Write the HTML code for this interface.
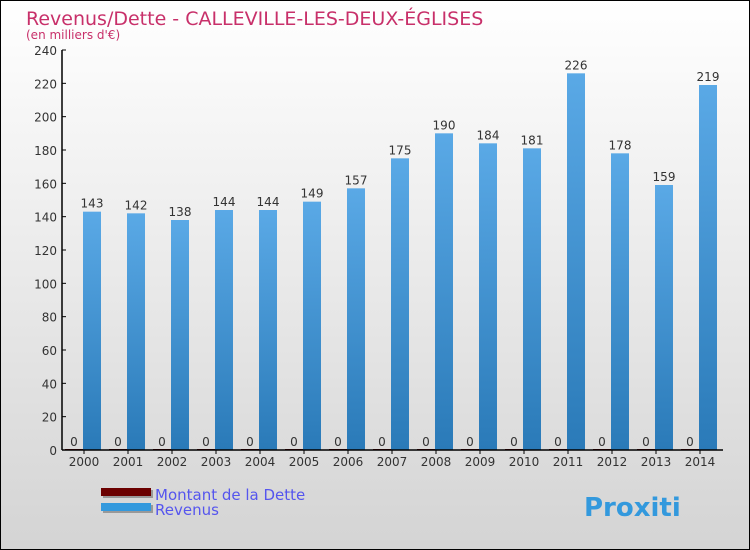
<!DOCTYPE html>
<html><head><meta charset="utf-8"><style>
body{margin:0}
#c{position:relative;width:748px;height:548px;border:1px solid #000;background:linear-gradient(#fff,#d4d4d4);font-family:"DejaVu Sans","Liberation Sans",sans-serif;overflow:hidden}
</style></head><body>
<div id="c">
<svg id="s" width="748" height="548"></svg>
</div>
<script>
const years=["2000","2001","2002","2003","2004","2005","2006","2007","2008","2009","2010","2011","2012","2013","2014"];
const revenus=[143,142,138,144,144,149,157,175,190,184,181,226,178,159,219];
const dette=[0,0,0,0,0,0,0,0,0,0,0,0,0,0,0];
const ticks=[0,20,40,60,80,100,120,140,160,180,200,220,240];
const NS="http://www.w3.org/2000/svg";
const s=document.getElementById('s');
const x0=61,y0=449,yTop=49,gw=44;
const y=v=>y0-(v/240)*(y0-yTop);
const gx=i=>x0+gw*i+gw/2;
function el(t,a,txt){const e=document.createElementNS(NS,t);for(const k in a)e.setAttribute(k,a[k]);if(txt!==undefined)e.textContent=txt;s.appendChild(e);return e;}
const defs=el('defs',{});
defs.innerHTML='<linearGradient id="gb" x1="0" y1="0" x2="0" y2="1"><stop offset="0" stop-color="#5aa9e6"/><stop offset="1" stop-color="#2a7ab8"/></linearGradient>';
let t=el('text',{x:25,y:24,fill:'#c8306a','font-size':19});t.textContent='Revenus/Dette - CALLEVILLE-LES-DEUX-ÉGLISES';

t=el('text',{x:25,y:38,fill:'#c8306a','font-size':12},"(en milliers d'€)");

ticks.forEach(v=>{
 const tl=el('text',{x:56,y:y(v)+5,'text-anchor':'end','font-size':12,fill:'#333'},v);
 
 el('line',{x1:x0,x2:x0+4,y1:y(v),y2:y(v),stroke:'#000'});
});
years.forEach((yr,i)=>{
 const c=gx(i);
 const db=el('rect',{x:c-19,y:y(dette[i])-1,width:18,height:1+y0-y(dette[i]),fill:'#6b0000'});
 
 const rb=el('rect',{x:c-1,y:y(revenus[i]),width:18,height:y0-y(revenus[i]),fill:'url(#gb)'});
 
 const l1=el('text',{x:c-10,y:y(dette[i])-4,'text-anchor':'middle','font-size':12,fill:'#333'},dette[i]);
 
 const l2=el('text',{x:c+8,y:y(revenus[i])-4,'text-anchor':'middle','font-size':12,fill:'#333'},revenus[i]);
 
 el('line',{x1:c,x2:c,y1:y0,y2:y0+4,stroke:'#000'});
 const xl=el('text',{x:c,y:y0+16,'text-anchor':'middle','font-size':12,fill:'#333'},yr);
 
});
el('line',{x1:x0,x2:x0,y1:yTop,y2:y0,stroke:'#000','stroke-width':1.5});
el('line',{x1:x0,x2:722,y1:y0,y2:y0,stroke:'#000','stroke-width':1.5});
const lg=[['#6b0000','Montant de la Dette',493],['#3399dd','Revenus',508]];
lg.forEach(([c,n,yy])=>{
 el('rect',{x:102,y:yy-4,width:50,height:8,fill:'#999'});
 const r=el('rect',{x:100,y:yy-6,width:50,height:8,fill:c});
 
 const tx=el('text',{x:154,y:yy+6,'font-size':15,fill:'#5555ee'},n);
 
});
const lo=el('text',{x:583,y:515,'font-size':26,'font-weight':'bold',fill:'#3399dd'},'Proxiti');

</script>
</body></html>
